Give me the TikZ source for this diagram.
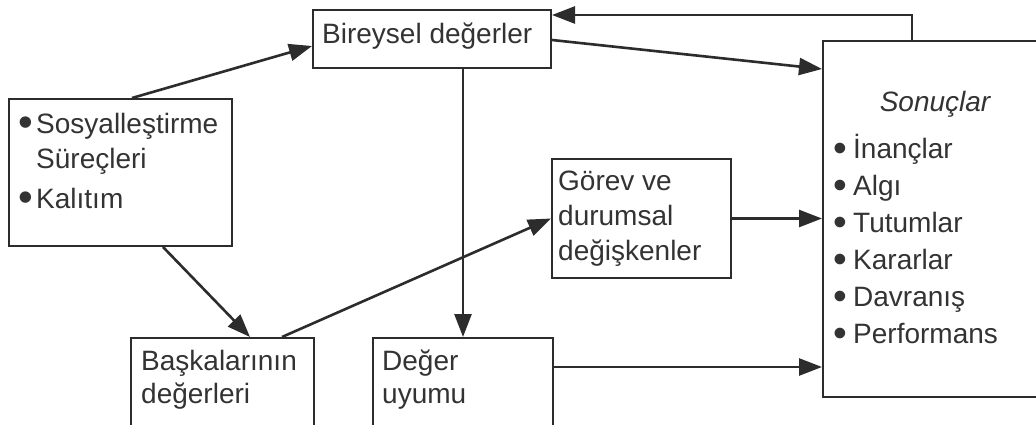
\documentclass[tikz,border=0pt]{standalone}
\usepackage{fontspec}
\setmainfont{Liberation Sans}
\usetikzlibrary{arrows.meta,calc}
\definecolor{ink}{HTML}{2C2C2C}
\definecolor{txt}{HTML}{333333}
\newcommand{\bul}{\makebox[18pt][l]{\raisebox{-3.5pt}{\scalebox{1.5}{•}}}}
\newcommand{\rbul}{\makebox[20pt][l]{\raisebox{-3pt}{\scalebox{1.4}{•}}}}
\begin{document}
\begin{tikzpicture}[x=1pt,y=-1pt,
  box/.style={draw=ink,line width=2pt,inner sep=0pt,anchor=north west},
  lbl/.style={inner sep=0pt,anchor=base west,align=left,text=txt},
  link/.style={draw=ink,line width=2.6pt,-{Triangle[length=23pt,width=17pt]}}]
\useasboundingbox (0,0) rectangle (1036,425);
\clip (0,0) rectangle (1036,425);
\fill[white] (0,0) rectangle (1036,425);

% boxes
\node[box,minimum width=223pt,minimum height=147pt] (soc)  at (8,98)   {};
\node[box,minimum width=238pt,minimum height=58pt]  (bir)  at (312,9)  {};
\node[box,minimum width=179pt,minimum height=119pt] (gor)  at (551,158){};
\node[box,minimum width=183pt,minimum height=120pt] (bask) at (130,337){};
\node[box,minimum width=180pt,minimum height=120pt] (deg)  at (372,337){};
\node[box,minimum width=240pt,minimum height=356pt] (son)  at (822,40) {};

% labels (multi-line labels are placed by the baseline of their last line)
\node[lbl,font=\fontsize{28}{34}\selectfont] (tbir) at (322,44) {Bireysel değerler};
\node[lbl,font=\fontsize{28}{35}\selectfont] (tsoc) at (18,208)
  {\bul Sosyalleştirme\\\makebox[18pt]{}Süreçleri\\[5pt]\bul Kalıtım};
\node[lbl,font=\fontsize{28}{35}\selectfont] (tgor) at (558,260)
  {Görev ve\\durumsal\\değişkenler};
\node[lbl,font=\fontsize{28}{33}\selectfont] (tbask) at (141,403)
  {Başkalarının\\değerleri};
\node[lbl,font=\fontsize{28}{33}\selectfont] (tdeg) at (382,403)
  {Değer\\uyumu};
\node[inner sep=0pt,anchor=base,text=txt,font=\fontsize{28}{34}\selectfont\itshape] (tson) at (935,112) {Sonuçlar};
\node[lbl,font=\fontsize{28}{37}\selectfont] (tlist) at (833,343)
  {\rbul İnançlar\\\rbul Algı\\\rbul Tutumlar\\\rbul Kararlar\\\rbul Davranış\\\rbul Performans};

% connectors
\draw[link] ([xshift=124pt]soc.north west) -- ([yshift=-7pt]bir.west);
\draw[link] ([xshift=155pt]soc.south west) -- ([xshift=120pt]bask.north west);
\draw[link] ([xshift=152pt]bask.north west) -- (gor.west);
\draw[link] ([xshift=151pt]bir.south west) -- ([xshift=91pt]deg.north west);
\draw[link] ([yshift=-31pt]bir.north east) -- ([yshift=-29pt]son.north west);
\draw[link] ([xshift=90pt]son.north west) |- ([yshift=-6pt]bir.north east);
\draw[link] (gor.east) -- (gor.east -| son.west);
\draw[link] ([yshift=-30pt]deg.north east) -- ([yshift=-30pt]deg.north east -| son.west);
\end{tikzpicture}
\end{document}
